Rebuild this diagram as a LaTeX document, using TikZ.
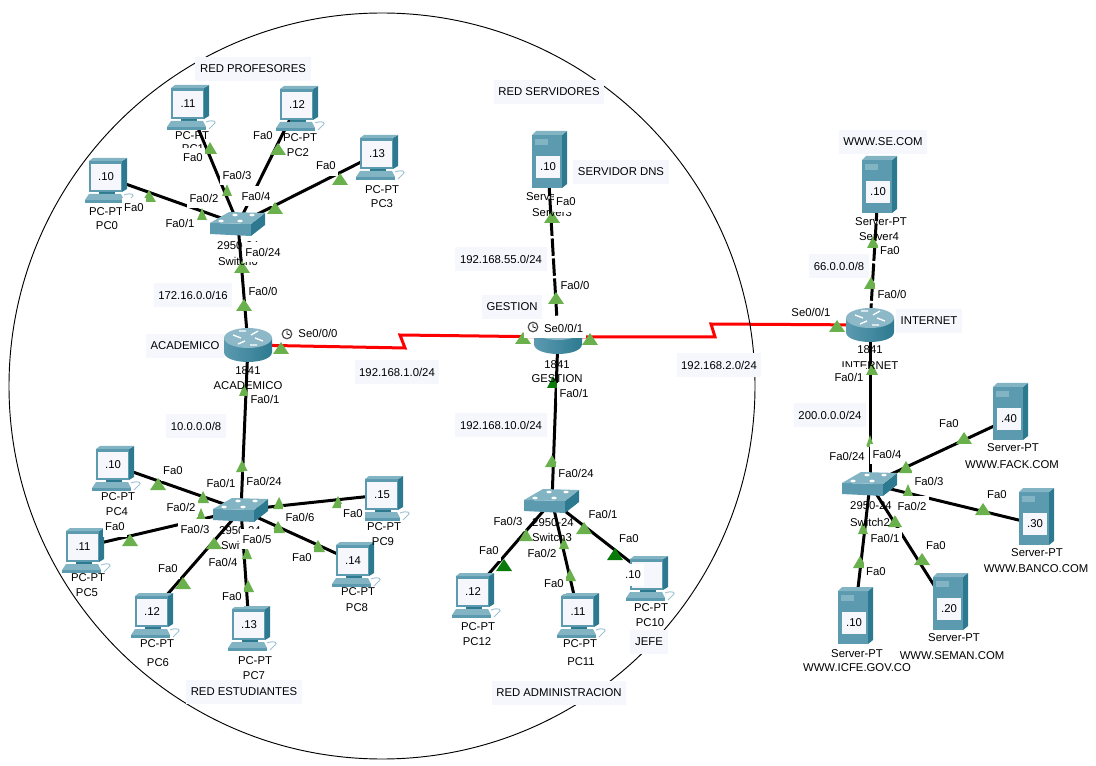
\documentclass[tikz,border=0pt]{standalone}
\usepackage{fontspec}
\setmainfont{Liberation Sans}
\usetikzlibrary{backgrounds}
\definecolor{iconfront}{RGB}{92,154,176}
\definecolor{icontop}{RGB}{130,180,196}
\definecolor{iconside}{RGB}{45,122,144}
\definecolor{screenwhite}{RGB}{246,247,252}
\definecolor{notefill}{RGB}{245,247,253}
\definecolor{lighton}{RGB}{106,176,76}
\definecolor{lightdark}{RGB}{10,122,10}
\tikzset{
  screenbox/.style={fill=screenwhite,inner sep=0pt,minimum width=22pt,minimum height=19pt},
  devbox/.style={inner sep=0pt,minimum width=24pt,minimum height=10pt},
  devlabel/.style={inner sep=0pt},
  iflabel/.style={fill=white,inner xsep=2pt,inner ysep=0pt,minimum height=14.5pt},
  notebox/.style={fill=notefill,inner xsep=3.5pt,inner ysep=0pt,minimum height=18pt},
  ethlink/.style={line width=2.25pt},
  crosslink/.style={line width=2.25pt,dash pattern=on 13pt off 2pt},
  seriallink/.style={line width=2.25pt,red,line join=miter},
  pcicon/.pic={
    \fill[iconfront] (-17,-16) rectangle (16,15);
    \fill[iconside] (16,-16) -- (21,-19) -- (21,12) -- (16,15) -- cycle;
    \fill[icontop] (-17,-16) -- (16,-16) -- (21,-19) -- (-13,-19) -- cycle;
    \fill[iconside] (-7,15) rectangle (9,17);
    \fill[icontop] (-17,17) -- (15,17) -- (18,23) -- (-21,23) -- cycle;
    \fill[iconfront] (-21,23) rectangle (18,26);
    \draw[iconfront!60,line width=0.7pt] (18,18) .. controls (26,15) and (30,18) .. (25,21) -- (21,25);
  },
  servericon/.pic={
    \fill[iconfront] (-16,-32) rectangle (14,21);
    \fill[iconside] (14,-32) -- (19,-36) -- (19,17) -- (14,21) -- cycle;
    \fill[icontop] (-16,-32) -- (14,-32) -- (19,-36) -- (-12,-36) -- cycle;
    \fill[icontop] (-13,-28) rectangle (0,-22);
  },
  switchicon/.pic={
    \fill[iconfront] (-28,-1) -- (13,0) -- (13,12) -- (-28,10) -- cycle;
    \fill[iconside] (13,0) -- (27,-11) -- (27,1) -- (13,12) -- cycle;
    \fill[icontop] (-28,-1) -- (13,0) -- (27,-11) -- (-9,-12) -- cycle;
    \foreach \a/\b in {-17/-3,-3/-9,2/-3,14/-9}
      \fill[white] (\a,\b) ellipse [x radius=2pt,y radius=1pt];
  },
  routericon/.pic={
    \shade[left color=iconfront,middle color=white,right color=iconside]
      (-24,-7) -- (-24,7) .. controls (-24,20.3) and (24,20.3) .. (24,7) -- (24,-7) -- cycle;
    \fill[iconfront!70] (0,-7) ellipse [x radius=18pt,y radius=7.5pt];
    \draw[white,line width=1pt] (-15,-10) -- (-7,-7) (15,-4) -- (7,-7) (-2,-14) -- (-9,-14) (2,0) -- (9,0) (3,-10) -- (10,-14) (-3,-4) -- (-10,-1);
  },
  clockicon/.pic={
    \draw[black!70,fill=white,line width=0.9pt] (0,0) circle [radius=3.6pt];
    \draw[black,line width=0.5pt] (0,-3) -- (0,0) -- (3,1);
  }
}
\begin{document}
\begin{tikzpicture}[x=0.75pt,y=-0.75pt,every node/.style={font=\fontsize{8.5}{10}\selectfont,text=black}]
\useasboundingbox (0,0) rectangle (1096,766);
%--- circle round the campus ---
\draw[line width=0.7pt] (382,386) circle [radius=279.75pt];

%--- devices ---
\foreach \name/\x/\y/\ip in {pc0/106/177/.10,pc1/188/104/.11,pc2/297/105/.12,pc3/377/154/.13,
  pc4/113/465/.10,pc5/83/547/.11,pc6/152/612/.12,pc7/249/625/.13,pc8/353/561/.14,pc9/382/495/.15,
  pc10/647/575/{},pc11/578/612/.11,pc12/473/592/.12}{
  \pic at (\x,\y) {pcicon};
  \node[screenbox] (\name) at (\x,\y) {\ip};
}
\foreach \name/\x/\y/\ip in {srvdns/548/167/.10,srvse/878/192/.10,srvfack/1009/419/.40,
  srvbanco/1035/524/.30,srvseman/949/609/.20,srvicfe/854/623/.10}{
  \pic at (\x,\y) {servericon};
  \node[screenbox,minimum width=18.5pt,minimum height=17pt] (\name) at (\x,\y) {\ip};
}
\foreach \name/\x/\y in {sw0/238/224,sw1/241/510,sw3/552/501,sw2/870/484}{
  \pic at (\x,\y) {switchicon};
  \node[devbox] (\name) at (\x,\y) {};
}
\foreach \name/\x/\y in {acad/248/345,gest/558/337,inet/870/325}{
  \pic at (\x,\y) {routericon};
  \node[devbox] (\name) at (\x,\y) {};
}

%--- links ---
\coordinate (jaga) at (405,348);
\coordinate (jagb) at (400,335);
\coordinate (jagc) at (715,337);
\coordinate (jagd) at (711,324);
\begin{scope}[on background layer]
\foreach \a/\b in {pc0/sw0,pc1/sw0,pc2/sw0,pc3/sw0,sw0/acad,acad/sw1,
  pc4/sw1,pc5/sw1,pc6/sw1,pc7/sw1,pc8/sw1,pc9/sw1,gest/sw3,
  pc10/sw3,pc11/sw3,pc12/sw3,inet/sw2,srvfack/sw2,srvbanco/sw2,srvseman/sw2,srvicfe/sw2}{
  \draw[ethlink] (\a) -- (\b);
}
\draw[crosslink] (srvdns) -- (gest);
\draw[crosslink] (srvse) -- (inet);
\draw[seriallink] (acad) -- (jaga) -- (jagb) -- (gest);
\draw[seriallink] (gest) -- (jagc) -- (jagd) -- (inet);
\end{scope}

%--- link lights ---
\foreach \x/\y/\w in {149/196/6,202/214/4,210/148/6,227/190/4,278/149/7,340/179/7,275/208/7,
  242/267/7,244/305/7,281/348/7,244/390/4,242/466/5,158/484/7,203/497/5,130/540/7,201/514/4,
  183/583/7,214/543/7,248/586/5,247/553/4,318/546/6,278/527/6,338/502/5,279/503/5,
  552/217/7,556/298/7,523/338/7,590/339/7,552/461/6,526/535/6,564/543/4,570/575/5,584/528/7,
  873/242/5,871/283/6,837/326/7,872/369/5,870/441/3,906/467/6,964/438/7,983/509/7,908/490/4,
  895/521/6,922/559/7,863/528/4,860/562/6}{
  \fill[lighton] (\x,\y) ++(-\w-1,6) -- ++(2*\w+2,0) -- ++(-\w-1,-12) -- cycle;
}
\foreach \x/\y/\w in {553/382/5,504/565/7,615/554/7}{
  \fill[lightdark] (\x,\y) ++(-\w-1,6) -- ++(2*\w+2,0) -- ++(-\w-1,-12) -- cycle;
}

%--- device names ---
\foreach \x/\y/\t [count=\i] in {106/212/PC-PT,107/226/PC0,192/136/PC-PT,193/149/PC1,300/138/PC-PT,298/153/PC2,
  382/190/PC-PT,382/204/PC3,238/246/2950-24,238/261/Switch0,248/371/1841,248/386/ACADEMICO,
  118/497/PC-PT,117/512/PC4,88/578/PC-PT,87/593/PC5,157/644/PC-PT,158/663/PC6,255/661/PC-PT,254/676/PC7,
  358/592/PC-PT,357/608/PC8,384/527/PC-PT,383/542/PC9,240/531/2950-24,241/545/Switch1,
  552/197/Server-PT,552/213/Server3,557/365/1841,557/379/GESTION,553/523/2950-24,552/537/Switch3,
  478/627/PC-PT,477/642/PC12,580/644/PC-PT,581/662/PC11,651/608/PC-PT,650/623/PC10,
  881/222/Server-PT,879/237/Server4,870/350/1841,870/366/INTERNET,871/506/2950-24,870/522/Switch2,
  1013/448/Server-PT,1012/465/WWW.FACK.COM,1037/553/Server-PT,1036/569/WWW.BANCO.COM,
  954/638/Server-PT,952/656/WWW.SEMAN.COM,857/654/Server-PT,857/668/WWW.ICFE.GOV.CO}{
  \node[devlabel] (dev\i) at (\x,\y) {\t};
}

%--- interface labels ---
\foreach \x/\y/\t [count=\i] in {134/208/Fa0,193/158/Fa0,263/136/Fa0,326/166/Fa0,180/223/{Fa0/1},204/198/{Fa0/2},
  237/175/{Fa0/3},256/196/{Fa0/4},263/252/{Fa0/24},263/291/{Fa0/0},318/333/{Se0/0/0},265/399/{Fa0/1},
  264/481/{Fa0/24},221/483/{Fa0/1},181/507/{Fa0/2},195/529/{Fa0/3},223/562/{Fa0/4},257/539/{Fa0/5},300/517/{Fa0/6},
  173/471/Fa0,115/527/Fa0,168/569/Fa0,232/597/Fa0,302/558/Fa0,353/514/Fa0,
  566/202/Fa0,575/285/{Fa0/0},574/393/{Fa0/1},576/473/{Fa0/24},508/521/{Fa0/3},603/514/{Fa0/1},542/553/{Fa0/2},
  489/551/Fa0,554/584/Fa0,629/539/Fa0,890/251/Fa0,892/294/{Fa0/0},811/312/{Se0/0/1},849/377/{Fa0/1},
  847/456/{Fa0/24},887/454/{Fa0/4},929/481/{Fa0/3},912/506/{Fa0/2},885/538/{Fa0/1},
  949/424/Fa0,997/495/Fa0,936/546/Fa0,876/572/Fa0}{
  \node[iflabel] (if\i) at (\x,\y) {\t};
}
\node[iflabel] (ifgest) at (555,328) {\hspace{13pt}Se0/0/1};
\node[iflabel,minimum width=16pt,minimum height=16pt] (ipjefe) at (633,575) {.10};
\pic at (287,334) {clockicon};
\pic at (533,327) {clockicon};

%--- notes ---
\foreach \x/\y/\t [count=\i] in {253/69/RED PROFESORES,549/92/RED SERVIDORES,621/172/SERVIDOR DNS,883/142/WWW.SE.COM,
  193/295/{172.16.0.0/16},185/346/ACADEMICO,196/426/{10.0.0.0/8},244/692/RED ESTUDIANTES,
  501/259/{192.168.55.0/24},512/307/GESTION,397/372/{192.168.1.0/24},719/365/{192.168.2.0/24},
  501/425/{192.168.10.0/24},649/642/JEFE,559/693/RED ADMINISTRACION,839/266/{66.0.0.0/8},
  929/321/INTERNET,830/415/{200.0.0.0/24}}{
  \node[notebox] (note\i) at (\x,\y) {\t};
}
\end{tikzpicture}
\end{document}
